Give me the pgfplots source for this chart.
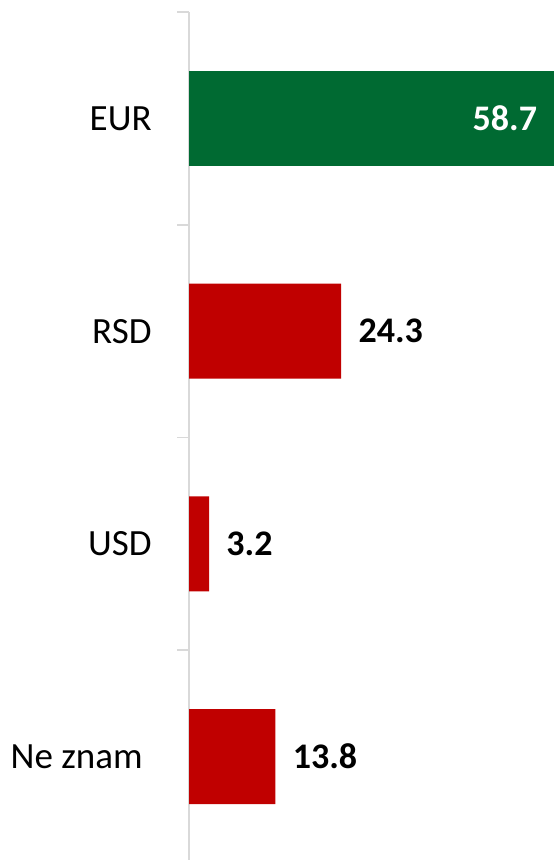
\documentclass[border=0pt]{standalone}
\usepackage{fontspec}
\setmainfont{Carlito}
\usepackage{pgfplots}
\pgfplotsset{compat=1.18}
\definecolor{eurgreen}{RGB}{0,106,50}
\definecolor{barred}{RGB}{192,0,0}
\definecolor{axgray}{RGB}{217,217,217}
\begin{document}
\begin{tikzpicture}
\useasboundingbox (0,0) rectangle (276.5pt,430pt);
\begin{axis}[
  at={(94.5pt,-1.5pt)}, anchor=south west,
  scale only axis, width=182pt, height=425.5pt,
  xbar, bar width=47.5pt, clip=false,
  xmin=0, xmax=58.15, ymin=-0.5, ymax=3.5, y dir=reverse,
  axis x line=none, axis y line=left,
  axis line style={axgray, line width=0.8pt, -},
  xtick=\empty,
  ytick={0,1,2,3}, yticklabels={EUR,RSD,USD,{Ne znam\kern4.5pt}},
  major tick length=0pt,
  minor ytick={-0.5,0.5,1.5,2.5,3.5}, minor tick length=6pt, tick align=outside,
  ytick pos=left, tick style={axgray, line width=0.8pt},
  yticklabel style={font=\fontsize{18.5}{21}\selectfont, anchor=east, inner sep=0pt, xshift=-18.5pt},
  nodes near coords,
  /pgf/number format/fixed, /pgf/number format/precision=1,
  /pgf/number format/assume math mode=true,
]
\addplot[fill=eurgreen, draw=none, bar shift=0pt,
  every node near coord/.append style={anchor=east, xshift=-9.5pt, inner sep=0pt, text=white,
    font=\bfseries\fontsize{18}{21}\selectfont}]
  coordinates {(58.7,0)};
\addplot[fill=barred, draw=none, bar shift=0pt,
  every node near coord/.append style={anchor=west, xshift=8.5pt, inner sep=0pt, text=black,
    font=\bfseries\fontsize{18}{21}\selectfont}]
  coordinates {(24.3,1) (3.2,2) (13.8,3)};
\end{axis}
\end{tikzpicture}
\end{document}
